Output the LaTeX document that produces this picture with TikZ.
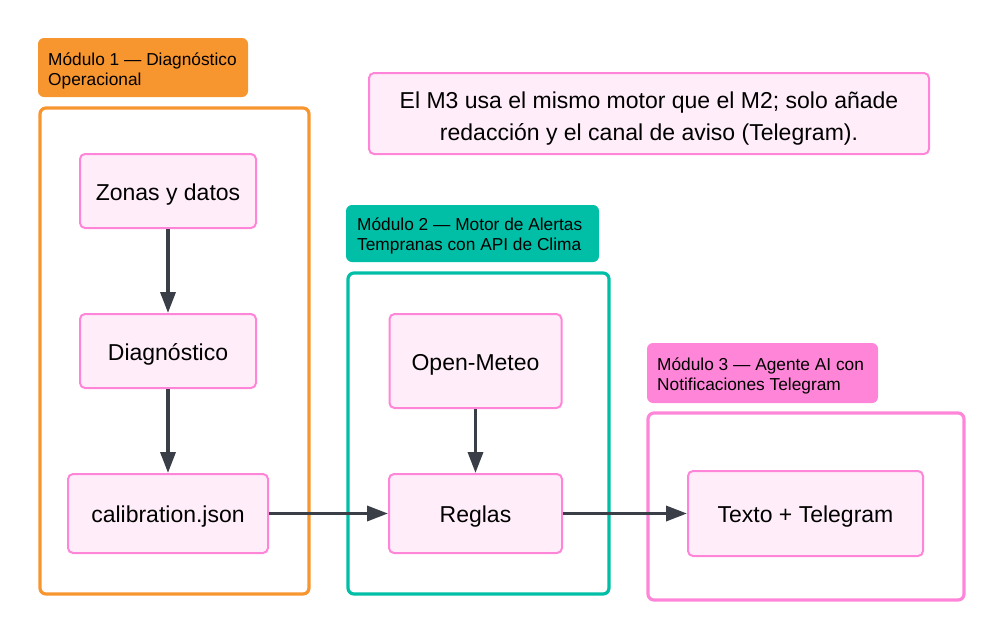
\documentclass[tikz,border=0pt]{standalone}
\usepackage{fontspec}
\setmainfont{Liberation Sans}
\usetikzlibrary{arrows.meta}
\definecolor{orangeM}{HTML}{F7952F}
\definecolor{tealM}{HTML}{00BFA6}
\definecolor{pinkM}{HTML}{FF85D8}
\definecolor{nodefill}{HTML}{FFEEF9}
\definecolor{arrowc}{HTML}{3A3F47}
\tikzset{
  procbox/.style={draw=pinkM, line width=2pt, fill=nodefill, rounded corners=5pt,
    font=\fontsize{23}{27}\selectfont, inner sep=0pt,
    text height=24pt, text depth=5.6pt},
  modframe/.style={line width=3.2pt, rounded corners=6pt},
  modlabel/.style={rounded corners=6pt, font=\fontsize{17.3}{20}\selectfont, align=left,
    anchor=north west, inner sep=0pt, text=black},
  flow/.style={draw=arrowc, line width=3.5pt, -{Triangle[length=21pt,width=15pt]}, shorten >=0pt}
}
\begin{document}
\begin{tikzpicture}[x=1pt,y=-1pt]
\useasboundingbox (0,0) rectangle (1003,640);
% module frames
\draw[modframe, draw=orangeM] (40,108) rectangle (309,594);
\draw[modframe, draw=tealM] (348,273) rectangle (609,594);
\draw[modframe, draw=pinkM] (648,413) rectangle (964,600);
% module labels
\fill[orangeM, rounded corners=6pt] (38,38) rectangle (248,97);
\node[modlabel] (l1) at (48,53) {Módulo 1 — Diagnóstico\\Operacional};
\fill[tealM, rounded corners=6pt] (346,205) rectangle (599,262);
\node[modlabel] (l2) at (357,218) {Módulo 2 — Motor de Alertas\\Tempranas con API de Clima};
\fill[pinkM, rounded corners=6pt] (647,343) rectangle (878,403);
\node[modlabel] (l3) at (657,357.5) {Módulo 3 — Agente AI con\\Notificaciones Telegram};
% note
\draw[draw=pinkM, line width=2pt, fill=nodefill, rounded corners=5pt] (369,73) rectangle (929,154);
\node[font=\fontsize{23}{32}\selectfont, align=center, inner sep=0pt] (note) at (649,119)
  {El M3 usa el mismo motor que el M2; solo añade\\redacción y el canal de aviso (Telegram).};
% nodes
\node[procbox, minimum width=176pt, minimum height=74pt] (zonas) at (168,191) {Zonas y datos};
\node[procbox, minimum width=176pt, minimum height=74pt] (diag) at (168,351) {Diagnóstico};
\node[procbox, minimum width=200pt, minimum height=79pt] (calib) at (168,513.5) {calibration.json};
\node[procbox, minimum width=172pt, minimum height=94pt] (open) at (475.5,361) {Open-Meteo};
\node[procbox, minimum width=173pt, minimum height=79pt] (reglas) at (475.5,513.5) {Reglas};
\node[procbox, minimum width=235pt, minimum height=85pt] (texto) at (805.5,513.5) {Texto + Telegram};
% connectors
\draw[flow] (zonas) -- (diag);
\draw[flow] (diag) -- (calib);
\draw[flow] (open) -- (reglas);
\draw[flow] (calib) -- (reglas);
\draw[flow] (reglas) -- (texto);
\end{tikzpicture}
\end{document}
